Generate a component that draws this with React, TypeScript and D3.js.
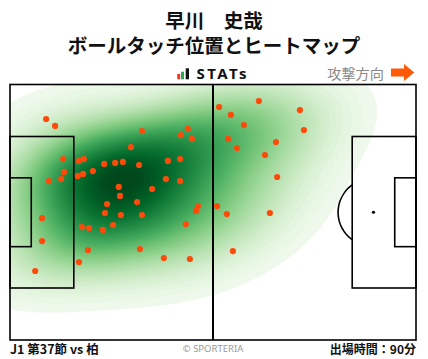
import React from "react";
import * as d3 from "d3";

// Ball touch positions (0-100 pitch coordinates, x = attacking direction →, y = top → bottom)
const touchX = [8.9, 11.1, 32.5, 29.8, 13.1, 17.0, 18.2, 23.2, 25.9, 27.8, 31.8, 13.3, 20.4, 18.0, 16.7, 12.6, 9.6, 26.8, 27.1, 23.9, 31.3, 23.4, 27.3, 32.5, 43.8, 42.1, 44.8, 38.9, 41.9, 38.4, 41.9, 35.0, 46.3, 45.8, 51.5, 61.3, 54.4, 57.6, 53.7, 55.9, 65.5, 62.8, 65.8, 51.0, 53.4, 64.0, 71.4, 72.4, 7.9, 7.9, 6.2, 17.7, 19.5, 22.9, 25.4, 19.2, 17.0, 32.0, 43.3, 37.9, 44.3, 54.9];
const touchY = [13.5, 16.2, 18.2, 24.5, 29.2, 29.9, 29.2, 31.1, 30.7, 30.3, 31.5, 34.2, 33.9, 35.0, 35.8, 37.0, 37.8, 40.1, 43.6, 46.8, 46.0, 50.3, 51.1, 51.1, 17.4, 19.8, 21.3, 29.9, 29.2, 37.0, 37.8, 40.9, 47.6, 49.5, 8.8, 6.5, 11.9, 15.9, 21.3, 24.9, 22.5, 27.6, 36.2, 47.6, 50.7, 50.3, 10.0, 17.8, 52.3, 61.3, 73.0, 55.8, 56.2, 56.9, 55.0, 64.8, 69.5, 64.4, 54.6, 67.9, 68.3, 65.2];

const titleLines = ["早川　史哉", "ボールタッチ位置とヒートマップ"];
const matchLabel = "J1 第37節 vs 柏";
const minutesLabel = "出場時間：90分";
const creditLabel = "© SPORTERIA";
const directionLabel = "攻撃方向";
const logoLabel = "STATs";

const W = 428;
const H = 359;
const F = { x0: 10, x1: 416, y0: 84.5, y1: 340 };
const JP = "'Noto Sans CJK JP', 'Noto Sans', sans-serif";

export default function App() {
  const sx = d3.scaleLinear().domain([0, 100]).range([F.x0, F.x1]);
  const sy = d3.scaleLinear().domain([0, 100]).range([F.y0, F.y1]);
  const mx = d3.scaleLinear().domain([0, 105]).range([F.x0, F.x1]);
  const my = d3.scaleLinear().domain([0, 68]).range([F.y0, F.y1]);

  const pts = touchX.map((v, i) => [sx(v), sy(touchY[i])]);

  // Gaussian KDE with full covariance (Scott's rule, adjusted), evaluated on the pitch only
  const n = pts.length;
  const meanX = d3.mean(pts, (p) => p[0])!;
  const meanY = d3.mean(pts, (p) => p[1])!;
  let cxx = 0, cyy = 0, cxy = 0;
  pts.forEach(([a, b]) => {
    cxx += (a - meanX) ** 2;
    cyy += (b - meanY) ** 2;
    cxy += (a - meanX) * (b - meanY);
  });
  const bwAdjust = 1.5;
  const fac = (Math.pow(n, -1 / 6) * bwAdjust) ** 2;
  cxx = (cxx / (n - 1)) * fac;
  cyy = (cyy / (n - 1)) * fac;
  cxy = (cxy / (n - 1)) * fac;
  const det = cxx * cyy - cxy * cxy;
  const ixx = cyy / det, iyy = cxx / det, ixy = -cxy / det;

  const cs = 2;
  const gx0 = F.x0 - 4, gy0 = F.y0 - 4;
  const nx = Math.ceil((F.x1 - F.x0 + 8) / cs), ny = Math.ceil((F.y1 - F.y0 + 8) / cs);
  const values = new Float64Array(nx * ny);
  const inside: number[] = [];
  for (let j = 0; j < ny; j++) {
    const y = gy0 + (j + 0.5) * cs;
    for (let i = 0; i < nx; i++) {
      const x = gx0 + (i + 0.5) * cs;
      let s = 0;
      for (let k = 0; k < n; k++) {
        const dx = x - pts[k][0], dy = y - pts[k][1];
        s += Math.exp(-0.5 * (dx * dx * ixx + 2 * dx * dy * ixy + dy * dy * iyy));
      }
      values[i + j * nx] = s;
      if (x >= F.x0 && x <= F.x1 && y >= F.y0 && y <= F.y1) inside.push(s);
    }
  }
  const sorted = inside.sort((a, b) => b - a);
  const total = d3.sum(sorted);
  const cum: number[] = [];
  let acc = 0;
  for (const v of sorted) { acc += v; cum.push(acc / total); }
  const levelFor = (q: number) => {
    const idx = d3.bisectLeft(cum, 1 - q);
    return sorted[Math.min(idx, sorted.length - 1)];
  };
  const thresh = 0.02;
  const N = 60;
  const levels = d3.range(N).map((i) => levelFor(thresh + ((1 - thresh) * i) / (N - 1)));
  const lmin = levels[0], lmax = levels[levels.length - 1];
  const contours = d3.contours().size([nx, ny]).thresholds(levels.slice(0, -1))(Array.from(values));
  const path = d3.geoPath(d3.geoIdentity().scale(cs).translate([gx0, gy0]) as any);
  const color = (i: number) => {
    const mid = (levels[i] + levels[Math.min(i + 1, levels.length - 1)]) / 2;
    return d3.interpolateGreens(0.04 + 0.96 * ((mid - lmin) / (lmax - lmin)));
  };

  const lw = 1.6;
  const spot = 11;
  const r915 = 9.15;
  const arcAng = Math.acos(5.5 / r915);
  const rx = mx(r915) - mx(0);
  const ry = my(r915) - my(0);
  const arcL = d3.range(0, 41).map((i) => {
    const a = -arcAng + (2 * arcAng * i) / 40;
    return [mx(spot) + rx * Math.cos(a), my(34) + ry * Math.sin(a)];
  });
  const arcR = arcL.map(([x, y]) => [F.x0 + F.x1 - x, y]);
  const line = d3.line();

  return (
    <svg width={W} height={H} style={{ display: "block", position: "absolute", left: 0, top: 0 }}>
      <rect width={W} height={H} fill="#fff" />
      <text textAnchor="middle" fontFamily={JP} fontWeight={700} fontSize={19.5} fill="#111">
        <tspan x={214} y={28}>{titleLines[0]}</tspan>
        <tspan x={214} y={53}>{titleLines[1]}</tspan>
      </text>

      {/* STATs logo */}
      <rect x={177.3} y={74} width={2.8} height={5.3} fill="#e8321e" />
      <rect x={181} y={71.7} width={3} height={7.6} fill="#2aa84a" />
      <rect x={185.7} y={68.3} width={3.3} height={11} fill="#111" />
      <text x={196.5} y={79.3} fontFamily="'Noto Sans', sans-serif" fontWeight={700} fontSize={15} letterSpacing={2.4} fill="#111">{logoLabel}</text>

      <text x={384} y={78.5} textAnchor="end" fontFamily={JP} fontSize={14.2} fill="#888">{directionLabel}</text>
      <path d="M391,68.5 H404 V64 L414.3,72.5 L404,81 V76.5 H391 Z" fill="#ff5a0a" />

      <defs>
        <clipPath id="fieldClip">
          <rect x={F.x0} y={F.y0} width={F.x1 - F.x0} height={F.y1 - F.y0} />
        </clipPath>
      </defs>

      {/* markings hidden below heatmap */}
      <g fill="none" stroke="#000" strokeWidth={lw}>
        <ellipse cx={mx(52.5)} cy={my(34)} rx={rx} ry={ry} />
        <path d={line(arcL as any)!} />
        <path d={line(arcR as any)!} />
      </g>
      <circle cx={mx(spot)} cy={my(34)} r={1.6} fill="#000" />
      <circle cx={mx(105 - spot)} cy={my(34)} r={1.6} fill="#000" />
      <circle cx={mx(52.5)} cy={my(34)} r={1.6} fill="#000" />

      <g clipPath="url(#fieldClip)">
        {contours.map((c, i) => (
          <path key={i} d={path(c as any)!} fill={color(i)} stroke={color(i)} strokeWidth={0.3} />
        ))}
      </g>

      <g fill="none" stroke="#000" strokeWidth={lw}>
        <rect x={F.x0} y={F.y0} width={F.x1 - F.x0} height={F.y1 - F.y0} />
        <line x1={mx(52.5)} x2={mx(52.5)} y1={F.y0} y2={F.y1} strokeWidth={2} />
        <rect x={mx(0)} y={my(13.84)} width={mx(16.5) - mx(0)} height={my(54.16) - my(13.84)} />
        <rect x={mx(0)} y={my(24.84)} width={mx(5.5) - mx(0)} height={my(43.16) - my(24.84)} />
        <rect x={mx(105 - 16.5)} y={my(13.84)} width={mx(16.5) - mx(0)} height={my(54.16) - my(13.84)} />
        <rect x={mx(105 - 5.5)} y={my(24.84)} width={mx(5.5) - mx(0)} height={my(43.16) - my(24.84)} />
      </g>

      {pts.map(([x, y], i) => (
        <circle key={i} cx={x} cy={y} r={3.1} fill="#ff4a0a" />
      ))}

      <text x={10} y={353.5} fontFamily={JP} fontWeight={700} fontSize={12.5} fill="#111">{matchLabel}</text>
      <text x={213} y={352} textAnchor="middle" fontFamily="'Noto Sans', sans-serif" fontSize={9.5} fill="#999">{creditLabel}</text>
      <text x={416} y={353.5} textAnchor="end" fontFamily={JP} fontWeight={700} fontSize={12} fill="#111">{minutesLabel}</text>
    </svg>
  );
}
